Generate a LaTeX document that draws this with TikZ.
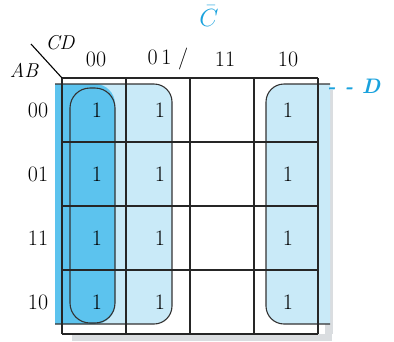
\documentclass[tikz,border=0pt]{standalone}
\usepackage{amsmath,amssymb}
\usepackage{xcolor}
\usepackage{tikz}
\usetikzlibrary{positioning,calc}
\definecolor{MapDeep}{HTML}{5CC3EE}
\definecolor{MapPale}{HTML}{C9EAF8}
\definecolor{MapCyan}{HTML}{1AA2DD}
\definecolor{MapShade}{HTML}{DADDE0}

\begin{document}
\begin{tikzpicture}[x=1pt,y=-1pt,
    every node/.style={font=\fontsize{22}{24}\selectfont, inner sep=0pt},
    gridline/.style={line width=1.5pt, black!85},
    loopline/.style={line width=1.1pt, black!80}]
  \useasboundingbox (0,0) rectangle (394,341);
  % shadows of the map
  \fill[MapShade] (72,334) rectangle (332,341);
  \fill[MapShade] (325,90) rectangle (333,334);
  % group C-bar (columns 00 and 01)
  \fill[MapPale] (55,84) [rounded corners=18pt] -- (172,84) -- (172,324)
    [sharp corners] -- (55,324) -- cycle;
  % group of column 10
  \fill[MapPale] (330,84) [rounded corners=18pt] -- (266,84) -- (266,324)
    [sharp corners] -- (330,324) -- cycle;
  % column 00, overlap of both groups
  \fill[MapDeep] (55,84) [rounded corners=20pt] -- (115,84) -- (115,324)
    [sharp corners] -- (55,324) -- cycle;
  % outlines of the groups
  \draw[loopline] (55,84) [rounded corners=18pt] -- (172,84) -- (172,324)
    [sharp corners] -- (55,324);
  \draw[loopline, rounded corners=20pt] (70,88) rectangle (115,323);
  \draw[loopline] (330,84) [rounded corners=18pt] -- (266,84) -- (266,324)
    [sharp corners] -- (330,324);
  % map grid
  \foreach \i in {0,...,4}{
    \draw[gridline] (62+\i*64,78) -- (62+\i*64,334);
    \draw[gridline] (62,78+\i*64) -- (318,78+\i*64);
  }
  % corner of the map
  \coordinate (corner) at (62,78);
  \coordinate (slant) at (31,44);
  \draw[line width=1.1pt] (slant) -- (corner);
  \node[font=\fontsize{20}{22}\selectfont\itshape] (cd) at (60,43) {CD};
  \node[font=\fontsize{20}{22}\selectfont\itshape] (ab) at (24,70) {AB};
  % column and row labels
  \foreach \c/\x in {00/96, {0\,1 /}/168, 11/225, 10/288}
    \node (col\x) at (\x,59) {\c};
  \foreach \r/\y in {00/110, 01/174, 11/238, 10/302}
    \node (row\y) at (38,\y) {\r};
  % cells holding 1
  \foreach \x in {97,160,288}
    \foreach \y in {110,174,238,302}
      \node (cell\x\y) at (\x,\y) {1};
  % group names
  \node[text=MapCyan, font=\fontsize{24}{26}\selectfont] (cbar) at (209,16)
    {$\bar{C}$};
  \node[text=MapCyan, font=\fontsize{21}{23}\selectfont\bfseries\itshape,
    anchor=west] (dname) at (327,86) {- - D};
\end{tikzpicture}
\end{document}
